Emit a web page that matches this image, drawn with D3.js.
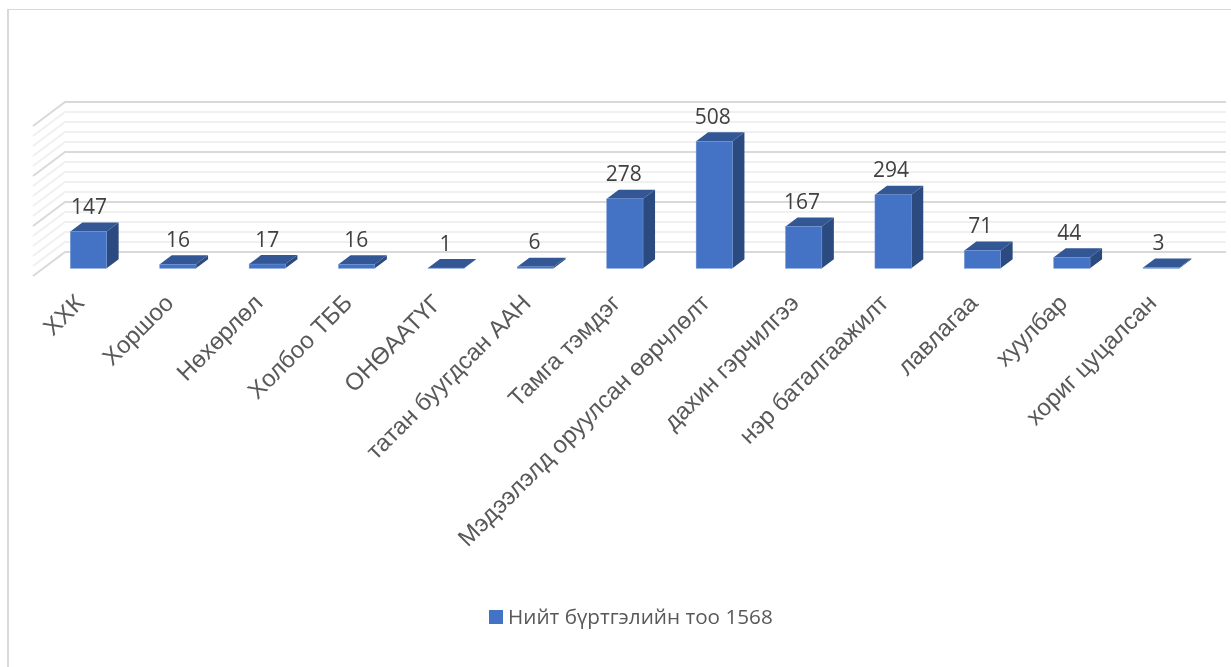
<!DOCTYPE html>
<html><head><meta charset="utf-8">
<script src="https://cdn.jsdelivr.net/npm/d3@7/dist/d3.min.js"></script>
<style>html,body{margin:0;padding:0;background:#fff;overflow:hidden}svg{display:block;filter:blur(0.3px)}</style>
</head><body><svg id="chart" width="1231" height="667"></svg>
<script>
const categories=["ХХК","Хоршоо","Нөхөрлөл","Холбоо ТББ","ОНӨААТҮГ","татан буугдсан ААН","Тамга тэмдэг","Мэдээлэлд оруулсан өөрчлөлт","дахин гэрчилгээ","нэр баталгаажилт","лавлагаа","хуулбар","хориг цуцалсан"];
const counts=[147,16,17,16,1,6,278,508,167,294,71,44,3];
const majorTicks=[0,200,400,600];
const minorTicks=[40,80,120,160,240,280,320,360,440,480,520,560];
const legendLabel="Нийт бүртгэлийн тоо 1568";

const svg=d3.select("#chart");
const x=d3.scaleBand().domain(categories).range([43.8,1206]).paddingInner(0.594).paddingOuter(0.297);
const valueX=d3.scalePoint().domain(categories).range([89,1158.5]);
const catX=d3.scalePoint().domain(categories).range([79.5,1152]);
const yFront=d3.scaleLinear().domain([0,600]).range([268.3,118.3]);
const yBack=d3.scaleLinear().domain([0,600]).range([252,102]);
const wallL=65,wallR=1226,floorX=33,floorDy=24;
const dx=12,dy=-9;

// frame
svg.append("line").attr("x1",8).attr("x2",8).attr("y1",9).attr("y2",667).attr("stroke","#d9d9d9").attr("stroke-width",2);
svg.append("line").attr("x1",7).attr("x2",1231).attr("y1",9.5).attr("y2",9.5).attr("stroke","#d9d9d9").attr("stroke-width",1);

function grid(vals,color,w){
  const g=svg.append("g").attr("fill","none").attr("stroke",color).attr("stroke-width",w);
  g.selectAll("path").data(vals).join("path")
   .attr("d",d=>`M${floorX},${yBack(d)+floorDy}L${wallL},${yBack(d)}H${wallR}`);
}
grid(minorTicks,"#f0f0f0",2);
grid(majorTicks,"#d9d9d9",2);

// bars
const bars=svg.append("g").selectAll("g").data(categories).join("g");
const h=i=>yFront(counts[i]);
const base=yFront(0);
bars.append("path").attr("fill","#2a4a80") // side
 .attr("d",(c,i)=>{const r=x(c)+x.bandwidth();return `M${r},${base}L${r+dx},${base+dy}V${h(i)+dy}L${r},${h(i)}Z`});
bars.append("path").attr("fill","#335694") // top
 .attr("d",(c,i)=>{const l=x(c),r=l+x.bandwidth();return `M${l},${h(i)}L${l+dx},${h(i)+dy}H${r+dx}L${r},${h(i)}Z`});
bars.append("rect").attr("fill","#4472c4").attr("stroke","#6f95d8").attr("stroke-width",0.5) // front
 .attr("x",c=>x(c)).attr("width",x.bandwidth())
 .attr("y",(c,i)=>h(i)).attr("height",(c,i)=>base-h(i));

// value labels
svg.append("g").selectAll("text").data(categories).join("text")
 .attr("x",c=>valueX(c))
 .attr("y",(c,i)=>h(i)-17.5)
 .attr("text-anchor","middle")
 .attr("font-family","'Open Sans','Noto Sans',sans-serif")
 .attr("font-size",21).attr("fill","#404040")
 .text((c,i)=>counts[i]);

// category labels
svg.append("g").selectAll("text").data(categories).join("text")
 .attr("transform",c=>`translate(${catX(c)},298.5) rotate(-45)`)
 .attr("text-anchor","end").attr("dy","0.35em")
 .attr("font-family","'Liberation Sans',Arial,sans-serif")
 .attr("font-size",24).attr("fill","#595959")
 .text(c=>c);

// legend
const lg=svg.append("g");
lg.append("rect").attr("x",489).attr("y",610).attr("width",14).attr("height",14).attr("fill","#4472c4");
lg.append("text").attr("x",508).attr("y",623.5).attr("font-family","'Open Sans','Noto Sans',sans-serif")
 .attr("font-size",20.7).attr("fill","#595959").text(legendLabel);
</script></body></html>
